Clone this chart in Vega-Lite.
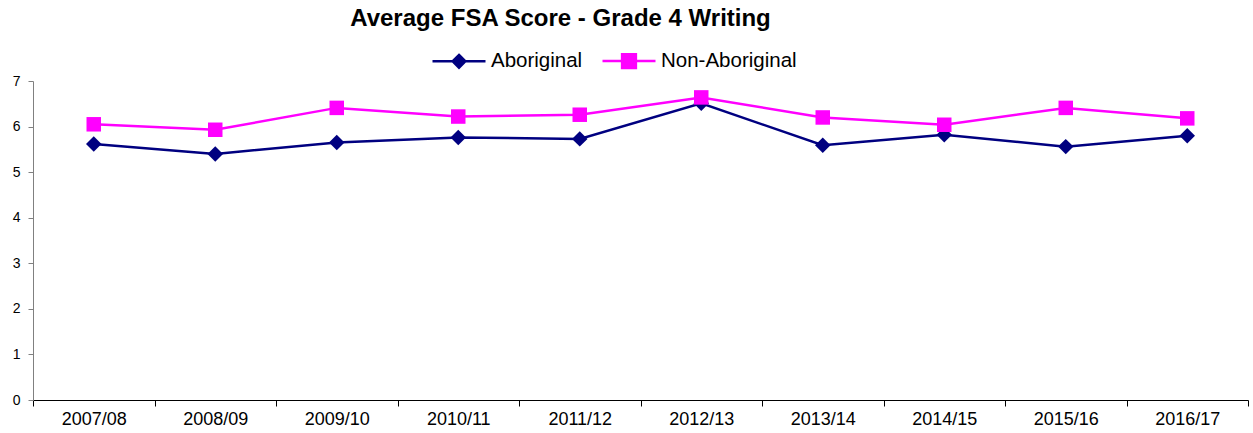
{
  "$schema": "https://vega.github.io/schema/vega-lite/v6.json",
  "width": 1215,
  "height": 319,
  "autosize": {"type": "none"},
  "padding": {"left": 33, "top": 81, "right": 5, "bottom": 33},
  "title": {
    "text": "Average FSA Score - Grade 4 Writing",
    "font": "Liberation Sans",
    "fontSize": 24,
    "fontWeight": "bold",
    "color": "#000000",
    "anchor": "middle",
    "dx": -80,
    "offset": 2
  },
  "config": {
    "view": {"stroke": null},
    "font": "Liberation Sans"
  },
  "data": {
    "values": [
      {"year": "2007/08", "group": "Aboriginal", "score": 5.62},
      {"year": "2008/09", "group": "Aboriginal", "score": 5.40},
      {"year": "2009/10", "group": "Aboriginal", "score": 5.65},
      {"year": "2010/11", "group": "Aboriginal", "score": 5.76},
      {"year": "2011/12", "group": "Aboriginal", "score": 5.73},
      {"year": "2012/13", "group": "Aboriginal", "score": 6.51},
      {"year": "2013/14", "group": "Aboriginal", "score": 5.59},
      {"year": "2014/15", "group": "Aboriginal", "score": 5.82},
      {"year": "2015/16", "group": "Aboriginal", "score": 5.56},
      {"year": "2016/17", "group": "Aboriginal", "score": 5.80},
      {"year": "2007/08", "group": "Non-Aboriginal", "score": 6.05},
      {"year": "2008/09", "group": "Non-Aboriginal", "score": 5.93},
      {"year": "2009/10", "group": "Non-Aboriginal", "score": 6.41},
      {"year": "2010/11", "group": "Non-Aboriginal", "score": 6.22},
      {"year": "2011/12", "group": "Non-Aboriginal", "score": 6.26},
      {"year": "2012/13", "group": "Non-Aboriginal", "score": 6.64},
      {"year": "2013/14", "group": "Non-Aboriginal", "score": 6.20},
      {"year": "2014/15", "group": "Non-Aboriginal", "score": 6.04},
      {"year": "2015/16", "group": "Non-Aboriginal", "score": 6.41},
      {"year": "2016/17", "group": "Non-Aboriginal", "score": 6.18}
    ]
  },
  "encoding": {
    "x": {
      "field": "year",
      "type": "ordinal",
      "scale": {"type": "band", "paddingInner": 0, "paddingOuter": 0},
      "axis": {
        "title": null,
        "labelAngle": 0,
        "labelFontSize": 18,
        "labelColor": "#000000",
        "labelPadding": 4,
        "tickBand": "extent",
        "tickSize": 6,
        "tickColor": "#000000",
        "domainColor": "#000000",
        "grid": false
      }
    },
    "y": {
      "field": "score",
      "type": "quantitative",
      "scale": {"domain": [0, 7], "nice": false},
      "axis": {
        "title": null,
        "values": [0, 1, 2, 3, 4, 5, 6, 7],
        "labelFontSize": 14,
        "labelColor": "#000000",
        "labelPadding": 8,
        "tickSize": 5,
        "tickColor": "#808080",
        "domainColor": "#808080",
        "grid": false
      }
    }
  },
  "layer": [
    {
      "mark": {"type": "line", "strokeWidth": 2.5},
      "encoding": {
        "color": {
          "field": "group",
          "type": "nominal",
          "scale": {"domain": ["Aboriginal", "Non-Aboriginal"], "range": ["#000080", "#FF00FF"]},
          "legend": {
            "title": null,
            "orient": "none",
            "direction": "horizontal",
            "legendX": 398,
            "legendY": -48,
            "labelFontSize": 20.5,
            "labelColor": "#000000",
            "symbolSize": 2809,
            "symbolStrokeWidth": 2.5,
            "columnPadding": 14,
            "labelOffset": 4
          }
        },
        "shape": {
          "field": "group",
          "type": "nominal",
          "scale": {"domain": ["Aboriginal", "Non-Aboriginal"], "range": ["M-1,0H1M0,-0.24L0.24,0L0,0.24L-0.24,0Z", "M-1,0H1M-0.26,-0.26H0.26V0.26H-0.26Z"]},
          "legend": {
            "title": null,
            "orient": "none",
            "direction": "horizontal",
            "legendX": 398,
            "legendY": -48,
            "labelFontSize": 20.5,
            "labelColor": "#000000",
            "symbolSize": 2809,
            "symbolStrokeWidth": 2.5,
            "columnPadding": 14,
            "labelOffset": 4
          }
        }
      }
    },
    {
      "mark": {"type": "point", "filled": true, "opacity": 1},
      "encoding": {
        "color": {
          "field": "group",
          "type": "nominal",
          "scale": {"domain": ["Aboriginal", "Non-Aboriginal"], "range": ["#000080", "#FF00FF"]},
          "legend": null
        },
        "shape": {
          "field": "group",
          "type": "nominal",
          "scale": {"domain": ["Aboriginal", "Non-Aboriginal"], "range": ["diamond", "square"]},
          "legend": null
        },
        "size": {
          "field": "group",
          "type": "nominal",
          "scale": {"domain": ["Aboriginal", "Non-Aboriginal"], "range": [240, 210]},
          "legend": null
        }
      }
    }
  ],
  "resolve": {
    "scale": {"shape": "independent", "color": "independent"},
    "legend": {"shape": "independent", "color": "independent"}
  }
}
